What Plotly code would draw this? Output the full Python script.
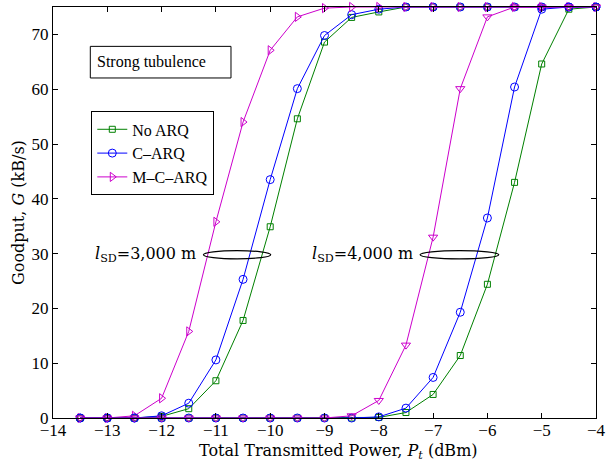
import plotly.graph_objects as go

# ---- data ----
power_dbm = [-13.5, -13, -12.5, -12, -11.5, -11, -10.5, -10, -9.5, -9,
             -8.5, -8, -7.5, -7, -6.5, -6, -5.5, -5, -4.5, -4]

noarq_3000 = [0, 0, 0, 0.3, 1.7, 6.8, 17.8, 34.9, 54.6, 68.6,
              73.1, 74.1, 75, 75, 75, 75, 75, 75, 75, 75]
carq_3000 = [0, 0, 0, 0.4, 2.7, 10.6, 25.3, 43.5, 60.1, 69.8,
             73.6, 74.6, 75, 75, 75, 75, 75, 75, 75, 75]
mcarq_3000 = [0, 0, 0.4, 3.6, 15.8, 35.8, 54.0, 67.1, 73.2, 74.8,
              75, 75, 75, 75, 75, 75, 75, 75, 75, 75]

noarq_4000 = [0, 0, 0, 0, 0, 0, 0, 0, 0, 0,
              0, 0.1, 1.0, 4.3, 11.4, 24.4, 43.0, 64.6, 74.6, 75]
carq_4000 = [0, 0, 0, 0, 0, 0, 0, 0, 0, 0,
             0, 0.2, 1.8, 7.4, 19.3, 36.5, 60.4, 74.6, 75, 75]
mcarq_4000 = [0, 0, 0, 0, 0, 0, 0, 0, 0, 0,
              0.4, 3.2, 13.3, 33.0, 60.1, 73.2, 75, 75, 75, 75]

series_names = ["No ARQ", "C\u2013ARQ", "M\u2013C\u2013ARQ"]
x_ticks = [-14, -13, -12, -11, -10, -9, -8, -7, -6, -5, -4]
y_ticks = [0, 10, 20, 30, 40, 50, 60, 70]

GREEN = "#008000"
BLUE = "#0000ff"
MAG = "#cc00cc"
SERIF = "Liberation Serif, Times New Roman, serif"
CM = "DejaVu Serif, serif"

fig = go.Figure()

specs_3000 = [
    (noarq_3000, GREEN, "square-open", 6, series_names[0]),
    (carq_3000, BLUE, "circle-open", 8, series_names[1]),
    (mcarq_3000, MAG, "triangle-right-open", 8, series_names[2]),
]
for vals, col, sym, sz, name in specs_3000:
    fig.add_trace(go.Scatter(
        x=power_dbm, y=vals, mode="lines+markers", name=name,
        line=dict(color=col, width=1),
        marker=dict(symbol=sym, size=sz, color=col, line=dict(color=col, width=1)),
        cliponaxis=False,
    ))

specs_4000 = [
    (noarq_4000, GREEN, "square-open", 6),
    (carq_4000, BLUE, "circle-open", 8),
    (mcarq_4000, MAG, "triangle-down-open", 8),
]
for vals, col, sym, sz in specs_4000:
    fig.add_trace(go.Scatter(
        x=power_dbm, y=vals, mode="lines+markers", showlegend=False,
        line=dict(color=col, width=1),
        marker=dict(symbol=sym, size=sz, color=col, line=dict(color=col, width=1)),
        cliponaxis=False,
    ))

axis_common = dict(
    showgrid=False, zeroline=False, showline=True, linecolor="black",
    linewidth=1, mirror="allticks", ticks="inside", ticklen=5,
    tickcolor="black", automargin=False,
    tickfont=dict(family=SERIF, size=17, color="black"),
)

fig.update_xaxes(range=[-14, -4], tickvals=x_ticks,
                 ticktext=[f"\u2212{abs(t)}" for t in x_ticks],
                 ticklabelstandoff=-3,
                 **axis_common)
fig.update_yaxes(range=[0, 75], tickvals=y_ticks, **axis_common)

# axis titles
fig.add_annotation(x=0.525, y=0, xref="paper", yref="paper", yshift=-21,
                   xanchor="center", yanchor="top", showarrow=False,
                   text="Total Transmitted Power, <i>P<sub>t</sub></i> (dBm)",
                   font=dict(family=CM, size=16, color="black"))
fig.add_annotation(x=0, y=0.5, xref="paper", yref="paper", xshift=-23,
                   xanchor="right", yanchor="middle", showarrow=False,
                   textangle=-90,
                   text="Goodput, <i>G</i> (kB/s)",
                   font=dict(family=CM, size=16, color="black"))

# ellipses and labels
fig.add_shape(type="circle", xref="x", yref="y", x0=-11.23, x1=-9.99,
              y0=29.05, y1=30.55, line=dict(color="black", width=1.2))
fig.add_shape(type="circle", xref="x", yref="y", x0=-7.24, x1=-5.79,
              y0=29.05, y1=30.55, line=dict(color="black", width=1.2))
fig.add_annotation(x=-11.33, y=29.8, xref="x", yref="y", xanchor="right",
                   showarrow=False,
                   text="<i>l</i><sub>SD</sub>=3,000 m",
                   font=dict(family=CM, size=16, color="black"))
fig.add_annotation(x=-7.34, y=29.8, xref="x", yref="y", xanchor="right",
                   showarrow=False,
                   text="<i>l</i><sub>SD</sub>=4,000 m",
                   font=dict(family=CM, size=16, color="black"))

# "Strong tubulence" box
fig.add_shape(type="rect", xref="paper", yref="paper",
              x0=0.0687, x1=0.3278, y0=0.8273, y1=0.9042,
              line=dict(color="black", width=1), fillcolor="white")
fig.add_annotation(x=0.078, y=0.8657, xref="paper", yref="paper",
                   xanchor="left", yanchor="middle", showarrow=False,
                   text="Strong tubulence",
                   font=dict(family=SERIF, size=16, color="black"))

fig.update_layout(
    width=611, height=462,
    margin=dict(l=53, r=15, t=7, b=44),
    paper_bgcolor="white", plot_bgcolor="white",
    showlegend=True,
    legend=dict(x=0.0705, y=0.746, xanchor="left", yanchor="top",
                bgcolor="white", bordercolor="black", borderwidth=1,
                font=dict(family=SERIF, size=16, color="black"),
                tracegroupgap=0, itemwidth=30),
)

fig.write_html("out.html",
               config={"staticPlot": True, "displayModeBar": False},
               post_script="document.body.style.margin='0';document.body.style.overflow='hidden';")
